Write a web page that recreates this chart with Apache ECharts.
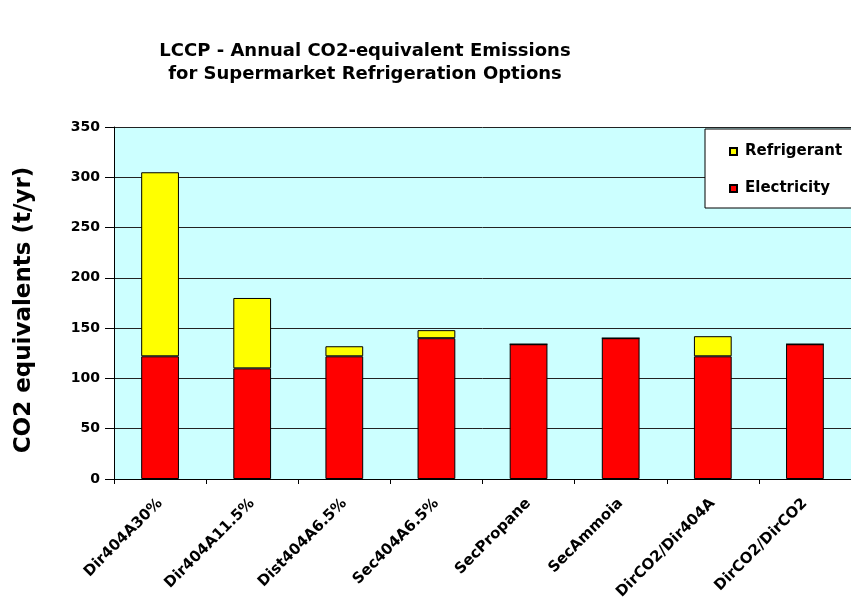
<!DOCTYPE html>
<html>
<head>
<meta charset="utf-8">
<script src="https://cdn.jsdelivr.net/npm/echarts@6/dist/echarts.min.js"></script>
<style>html,body{margin:0;padding:0;background:#fff}#c{width:851px;height:606px}</style>
</head>
<body>
<div id="c"></div>
<script>
var categories = ['Dir404A30%', 'Dir404A11.5%', 'Dist404A6.5%', 'Sec404A6.5%', 'SecPropane', 'SecAmmoia', 'DirCO2/Dir404A', 'DirCO2/DirCO2'];
var electricity = [122, 110, 122, 140, 134, 140, 122, 134];
var refrigerant = [183, 70, 10, 8, 0, 0, 20, 0];
var yTicks = [0, 50, 100, 150, 200, 250, 300, 350];

var FONT = '"DejaVu Sans", "Liberation Sans", Arial, sans-serif';
var chart = echarts.init(document.getElementById('c'), null, {renderer: 'canvas'});
chart.setOption({
  animation: false,
  backgroundColor: '#ffffff',
  title: {
    text: 'LCCP - Annual CO2-equivalent Emissions\nfor Supermarket Refrigeration Options',
    left: 360, top: 35, textAlign: 'center',
    textStyle: {fontFamily: FONT, fontWeight: 'bold', fontSize: 18, lineHeight: 23, color: '#000'}
  },
  legend: {
    data: ['Refrigerant', 'Electricity'],
    orient: 'vertical',
    left: 705, top: 129,
    padding: [15, 40, 12, 24],
    itemGap: 22,
    itemWidth: 7, itemHeight: 7,
    icon: 'rect',
    backgroundColor: '#ffffff',
    borderColor: '#000', borderWidth: 1,
    textStyle: {fontFamily: FONT, fontWeight: 'bold', fontSize: 15, color: '#000', padding: [0, 0, 0, 3]}
  },
  grid: {left: 114, right: -8, top: 127, bottom: 127, show: true, backgroundColor: '#CCFFFF', borderWidth: 0},
  xAxis: {
    type: 'category', data: categories,
    axisLine: {show: true, lineStyle: {color: '#000', width: 1}},
    axisTick: {show: true, alignWithLabel: false, length: 5, lineStyle: {color: '#000'}},
    axisLabel: {rotate: 45, margin: 22, interval: 0, fontFamily: FONT, fontWeight: 'bold', fontSize: 15, color: '#000'}
  },
  yAxis: {
    type: 'value', min: yTicks[0], max: yTicks[yTicks.length - 1], interval: 50,
    name: 'CO2 equivalents (t/yr)', nameLocation: 'middle', nameGap: 78, nameRotate: 90,
    nameTextStyle: {fontFamily: FONT, fontWeight: 'bold', fontSize: 23, color: '#000', padding: [0, 14, 0, 0]},
    axisLine: {show: true, lineStyle: {color: '#000', width: 1}},
    axisTick: {show: true, length: 9, lineStyle: {color: '#000'}},
    axisLabel: {margin: 14, fontFamily: FONT, fontWeight: 'bold', fontSize: 14, color: '#000'},
    splitLine: {show: true, lineStyle: {color: '#222', width: 1}}
  },
  series: [
    {name: 'Electricity', type: 'bar', stack: 'a', data: electricity, barWidth: '41%',
     itemStyle: {color: '#FF0000', borderColor: '#000', borderWidth: 1}},
    {name: 'Refrigerant', type: 'bar', stack: 'a', data: refrigerant, barWidth: '41%',
     itemStyle: {color: '#FFFF00', borderColor: '#000', borderWidth: 1}}
  ]
});
</script>
</body>
</html>
